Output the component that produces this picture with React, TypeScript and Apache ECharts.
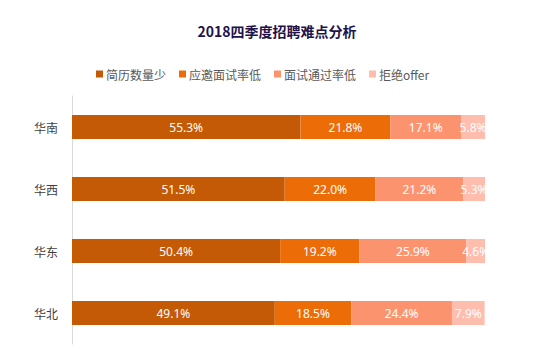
import React, { useEffect, useRef } from "react";
import * as echarts from "echarts";

const categories = ["华南", "华西", "华东", "华北"];
const seriesNames = ["简历数量少", "应邀面试率低", "面试通过率低", "拒绝offer"];
const resumeFew = [55.3, 51.5, 50.4, 49.1];
const interviewInviteLow = [21.8, 22.0, 19.2, 18.5];
const interviewPassLow = [17.1, 21.2, 25.9, 24.4];
const rejectOffer = [5.8, 5.3, 4.6, 7.9];
const colors = ["#C55A06", "#EC6C08", "#FC936F", "#FFBDAE"];

export default function App() {
  const ref = useRef<HTMLDivElement>(null);
  useEffect(() => {
    if (!ref.current) return;
    const chart = echarts.init(ref.current, undefined, { renderer: "svg" });
    const all = [resumeFew, interviewInviteLow, interviewPassLow, rejectOffer];
    chart.setOption({
      animation: false,
      title: {
        text: "2018四季度招聘难点分析",
        left: "center",
        top: 19,
        textStyle: {
          fontSize: 14,
          fontWeight: "bold",
          color: "#21124A",
          fontFamily: "Noto Sans CJK SC",
        },
      },
      legend: {
        top: 63,
        left: 91,
        itemWidth: 7,
        itemHeight: 7,
        itemGap: 13,
        icon: "rect",
        textStyle: { fontSize: 12, color: "#595959", fontFamily: "Noto Sans CJK SC", padding: [0, 0, 0, -2] },
        data: seriesNames,
      },
      grid: { left: 72, right: 69, top: 96, bottom: 12, containLabel: false },
      xAxis: {
        type: "value",
        min: 0,
        max: 100,
        show: false,
      },
      yAxis: {
        type: "category",
        data: categories,
        inverse: true,
        axisLine: { show: true, lineStyle: { color: "#D9D9D9" } },
        axisTick: { show: false },
        axisLabel: { fontSize: 12, color: "#404040", margin: 14, fontFamily: "Noto Sans CJK SC" },
      },
      series: seriesNames.map((name, i) => ({
        name,
        type: "bar",
        stack: "total",
        barWidth: 24,
        data: all[i],
        itemStyle: { color: colors[i] },
        label: {
          show: true,
          position: "inside",
          formatter: (p: any) => p.value.toFixed(1) + "%",
          color: "#FFFFFF",
          fontSize: 12,
          fontFamily: "Noto Sans",
        },
      })),
    });
    return () => chart.dispose();
  }, []);
  return <div ref={ref} style={{ width: 554, height: 356, position: "absolute", left: 0, top: 0 }} />;
}
